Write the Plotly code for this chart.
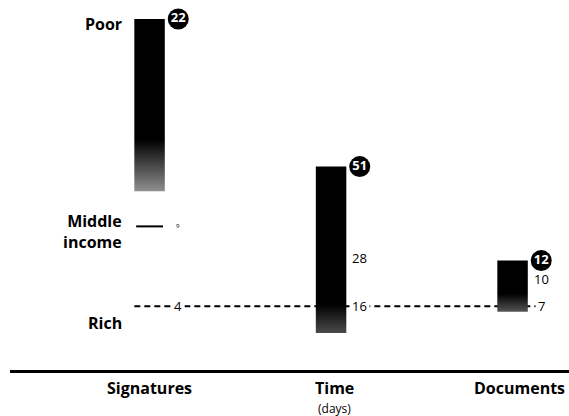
import plotly.graph_objects as go

# ---- data ----
categories = ["Signatures", "Time", "Documents"]
sub_labels = ["", "(days)", ""]
poor = [22, 51, 12]
middle = [9, 28, 10]
rich = [4, 16, 7]
bar_base = [11.2, 9.3, 6.4]          # where the faded bars end
row_labels = ["Poor", "Middle<br>income", "Rich"]

# ---- styling ----
FONT = "Open Sans"
FADE = [0.3, 0.17, 0.35]               # fraction of bar height that fades
FADE_COLOR = ["#8f8f8f", "#4a4a4a", "#555555"]
MID_FONT = [6, 13, 13]
CAT_XSHIFT = [0, 3, 7]
RICH_FRAC = 0.1725                      # share of plot height under the "rich" line
BAR_W = 0.168
LABEL_DX = 0.158
YAX = ["y", "y2", "y3"]

fig = go.Figure()

for i in range(len(categories)):
    ya = YAX[i]
    x0, x1 = i - BAR_W / 2, i + BAR_W / 2
    # middle-income tick (hidden behind the bar when inside it)
    fig.add_trace(go.Scatter(
        x=[x0 + 0.01, x1 - 0.01], y=[middle[i], middle[i]], yaxis=ya,
        mode="lines", line=dict(color="black", width=2),
        hoverinfo="skip", showlegend=False))
    # faded bar
    fig.add_trace(go.Scatter(
        x=[x0, x1, x1, x0, x0],
        y=[bar_base[i], bar_base[i], poor[i], poor[i], bar_base[i]],
        yaxis=ya, mode="lines", fill="toself",
        line=dict(width=0, color="black"),
        fillgradient=dict(type="vertical",
                          colorscale=[[0, FADE_COLOR[i]], [FADE[i], "#000000"], [1, "#000000"]]),
        hoverinfo="skip", showlegend=False))
    # poor value in black circle
    fig.add_trace(go.Scatter(
        x=[i + LABEL_DX], y=[poor[i]], yaxis=ya,
        mode="markers+text", marker=dict(size=21, color="black"),
        text=[f"<b>{poor[i]}</b>"], textposition="middle center",
        textfont=dict(color="white", size=13, family=FONT),
        hoverinfo="skip", showlegend=False, cliponaxis=False))

annotations = []
for i in range(len(categories)):
    ya = YAX[i]
    annotations.append(dict(
        x=i + LABEL_DX, y=middle[i], xref="x", yref=ya, text=str(middle[i]),
        showarrow=False, font=dict(size=MID_FONT[i], color="black", family=FONT)))
    annotations.append(dict(
        x=i + LABEL_DX, y=rich[i], xref="x", yref=ya, text=str(rich[i]),
        showarrow=False, bgcolor="white", borderpad=2,
        font=dict(size=13, color="black", family=FONT)))
    annotations.append(dict(
        x=i, y=0, xref="x", yref="paper", yanchor="middle", yshift=-18,
        xshift=CAT_XSHIFT[i],
        text=f"<b>{categories[i]}</b>", showarrow=False,
        font=dict(size=16, color="black", family=FONT)))
    if sub_labels[i]:
        annotations.append(dict(
            x=i, y=0, xref="x", yref="paper", yanchor="middle", yshift=-38,
            xshift=CAT_XSHIFT[i],
            text=sub_labels[i], showarrow=False,
            font=dict(size=12, color="black", family=FONT)))

# row labels, tied to the first column's values
for lab, val, shift in zip(row_labels, [poor[0], middle[0], rich[0]], [-5, -5, -17]):
    annotations.append(dict(
        x=0.204, xref="paper", xanchor="right", y=val, yref="y", yshift=shift,
        text=f"<b>{lab}</b>", showarrow=False, align="right",
        font=dict(size=16, color="black", family=FONT)))

shapes = [dict(
    type="line", xref="x", yref="y",
    x0=-BAR_W / 2, x1=len(categories) - 1 + LABEL_DX,
    y0=rich[0], y1=rich[0], layer="below",
    line=dict(color="black", width=2, dash="6px,4px"))]

fig.update_layout(
    width=569, height=416,
    margin=dict(l=10, r=0, t=0, b=46),
    paper_bgcolor="white", plot_bgcolor="white",
    showlegend=False,
    xaxis=dict(range=[-0.769, 2.311], showline=True, linecolor="black", linewidth=2.5,
               showticklabels=False, ticks="", showgrid=False, zeroline=False, fixedrange=True),
    yaxis=dict(range=[0, rich[0] / RICH_FRAC], visible=False, fixedrange=True),
    yaxis2=dict(range=[0, rich[1] / RICH_FRAC], visible=False, overlaying="y", fixedrange=True),
    yaxis3=dict(range=[0, rich[2] / RICH_FRAC], visible=False, overlaying="y", fixedrange=True),
    annotations=annotations,
    shapes=shapes,
)

fig.write_html(
    "out.html",
    config={"displayModeBar": False},
    post_script="document.body.style.margin='0';document.body.style.overflow='hidden';",
)
